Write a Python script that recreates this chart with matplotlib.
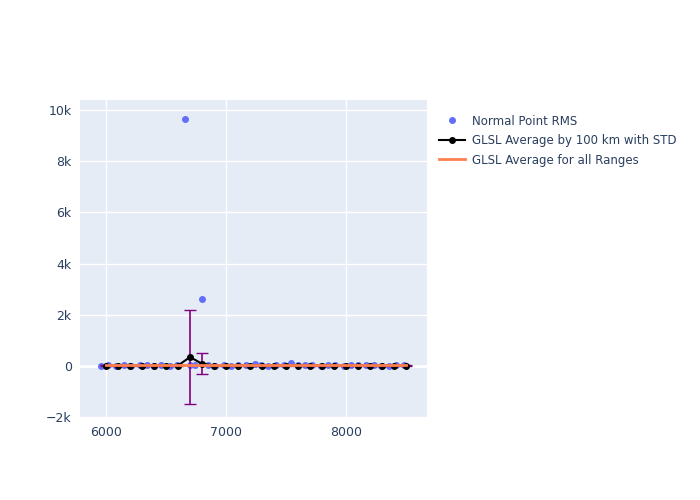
import numpy as np
import matplotlib.pyplot as plt

# normal point RMS (range km, rms)
np_range = [5960, 6020, 6080, 6150, 6210, 6280, 6340, 6400, 6460, 6530, 6590, 6660, 6700, 6740, 6800,
            6850, 6910, 6980, 7040, 7100, 7170, 7240, 7290, 7350, 7420, 7480, 7540, 7600, 7660, 7720,
            7790, 7850, 7910, 7980, 8040, 8100, 8170, 8230, 8290, 8360, 8420, 8480]
np_rms = [10, 25, 20, 30, 18, 22, 35, 20, 28, 15, 30, 9650, 40, 25, 2600,
          30, 20, 25, 18, 22, 30, 60, 25, 20, 35, 28, 110, 40, 22, 30,
          18, 25, 30, 20, 28, 22, 30, 25, 18, 20, 30, 25]

# GLSL average per 100 km bin with std
avg_range = list(range(6000, 8600, 100))
avg_val = [20, 20, 20, 20, 20, 20, 20, 350, 90, 20, 20, 20, 20, 20, 20, 20, 20, 20, 20, 20,
           20, 20, 20, 20, 20, 20]
avg_std = [10, 10, 10, 10, 10, 10, 10, 1850, 420, 10, 10, 10, 10, 10, 10, 10, 10, 10, 10, 10,
           10, 10, 10, 10, 10, 10]
overall_avg = 30


def main():
    fig = plt.figure(figsize=(7, 5), dpi=100)
    ax = fig.add_axes([80 / 700, 82 / 500, 347 / 700, 318 / 500])
    ax.set_facecolor('#e5ecf6')
    for s in ax.spines.values():
        s.set_visible(False)
    ax.grid(color='white', linewidth=1)
    ax.set_axisbelow(True)

    ax.plot(np_range, np_rms, 'o', color='#636efa', ms=4, label='Normal Point RMS', zorder=2)
    ax.errorbar(avg_range, avg_val, yerr=avg_std, fmt='none', ecolor='purple', elinewidth=1.2,
                capsize=4, zorder=3)
    ax.plot(avg_range, avg_val, '-o', color='black', ms=4, lw=1.5,
            label='GLSL Average by 100 km with STD', zorder=4)
    ax.plot([avg_range[0], avg_range[-1]], [overall_avg, overall_avg], color='#ff7f50', lw=2,
            label='GLSL Average for all Ranges', zorder=5)

    ax.set_xlim(5783, 8675)
    ax.set_ylim(-2030, 10390)
    ax.set_xticks([6000, 7000, 8000])
    ax.set_yticks([-2000, 0, 2000, 4000, 6000, 8000, 10000])
    ax.set_yticklabels(['−2k', '0', '2k', '4k', '6k', '8k', '10k'])
    ax.tick_params(length=0, labelsize=9, colors='#2a3f5f', pad=6)
    ax.axhline(0, color='white', lw=2, zorder=1)

    fig.legend(loc='upper left', bbox_to_anchor=(428 / 700, 1 - 104 / 500), frameon=False,
               fontsize=8.5, labelcolor='#2a3f5f', handlelength=2.2, labelspacing=0.55,
               handletextpad=0.6)
    fig.savefig('out.png')


if __name__ == '__main__':
    main()
